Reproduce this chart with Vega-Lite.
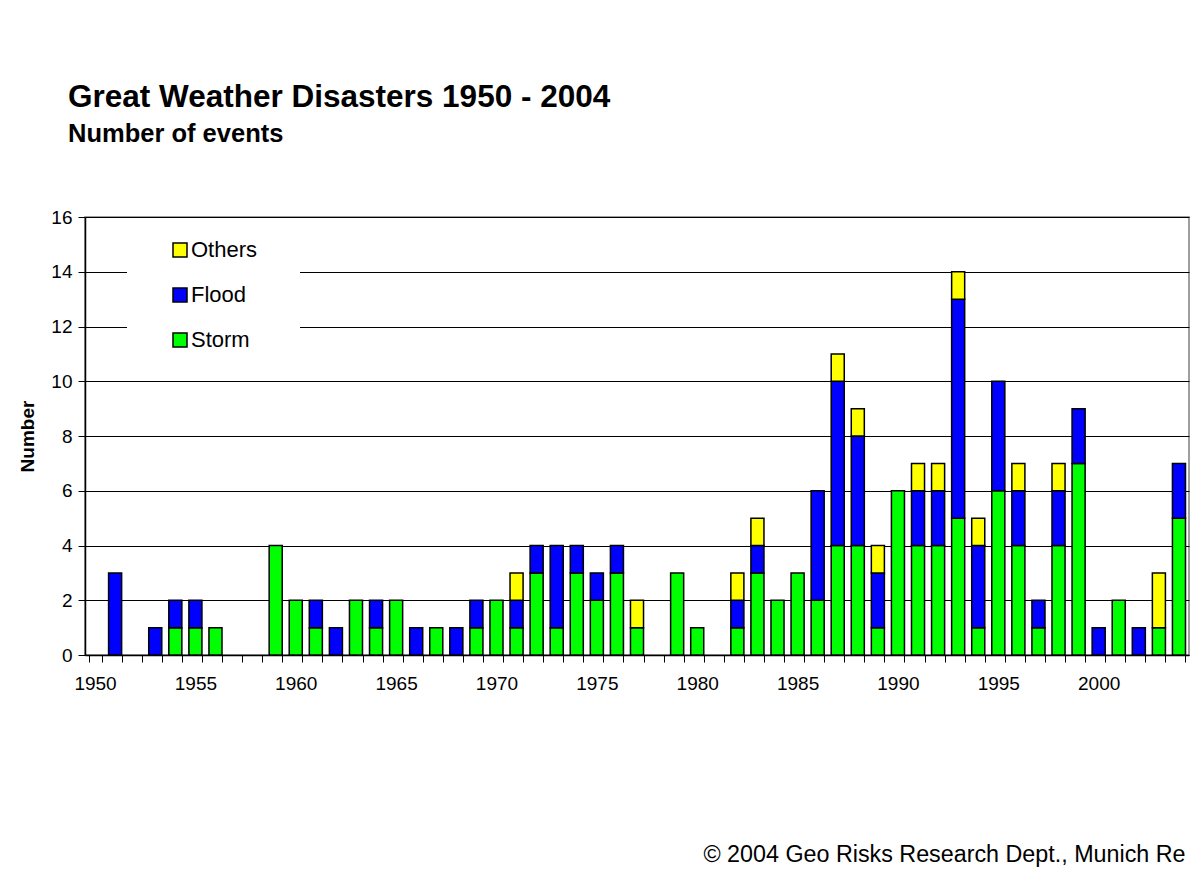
{
  "$schema": "https://vega.github.io/schema/vega-lite/v6.json",
  "autosize": {"type": "none"},
  "width": 1104,
  "height": 438,
  "padding": {"left": 85, "top": 217, "right": 9, "bottom": 220},
  "background": "white",
  "title": {
    "text": "Great Weather Disasters 1950 - 2004",
    "subtitle": "Number of events",
    "anchor": "start",
    "frame": "group",
    "dx": -17,
    "offset": 61,
    "font": "Liberation Sans",
    "fontSize": 31.5,
    "fontWeight": "bold",
    "color": "#000000",
    "subtitleFont": "Liberation Sans",
    "subtitleFontSize": 25.5,
    "subtitleFontWeight": "bold",
    "subtitleColor": "#000000",
    "subtitlePadding": 8
  },
  "data": {
    "values": [
      {"year": 1951, "type": "Flood", "n": 3},
      {"year": 1953, "type": "Flood", "n": 1},
      {"year": 1954, "type": "Storm", "n": 1}, {"year": 1954, "type": "Flood", "n": 1},
      {"year": 1955, "type": "Storm", "n": 1}, {"year": 1955, "type": "Flood", "n": 1},
      {"year": 1956, "type": "Storm", "n": 1},
      {"year": 1959, "type": "Storm", "n": 4},
      {"year": 1960, "type": "Storm", "n": 2},
      {"year": 1961, "type": "Storm", "n": 1}, {"year": 1961, "type": "Flood", "n": 1},
      {"year": 1962, "type": "Flood", "n": 1},
      {"year": 1963, "type": "Storm", "n": 2},
      {"year": 1964, "type": "Storm", "n": 1}, {"year": 1964, "type": "Flood", "n": 1},
      {"year": 1965, "type": "Storm", "n": 2},
      {"year": 1966, "type": "Flood", "n": 1},
      {"year": 1967, "type": "Storm", "n": 1},
      {"year": 1968, "type": "Flood", "n": 1},
      {"year": 1969, "type": "Storm", "n": 1}, {"year": 1969, "type": "Flood", "n": 1},
      {"year": 1970, "type": "Storm", "n": 2},
      {"year": 1971, "type": "Storm", "n": 1}, {"year": 1971, "type": "Flood", "n": 1}, {"year": 1971, "type": "Others", "n": 1},
      {"year": 1972, "type": "Storm", "n": 3}, {"year": 1972, "type": "Flood", "n": 1},
      {"year": 1973, "type": "Storm", "n": 1}, {"year": 1973, "type": "Flood", "n": 3},
      {"year": 1974, "type": "Storm", "n": 3}, {"year": 1974, "type": "Flood", "n": 1},
      {"year": 1975, "type": "Storm", "n": 2}, {"year": 1975, "type": "Flood", "n": 1},
      {"year": 1976, "type": "Storm", "n": 3}, {"year": 1976, "type": "Flood", "n": 1},
      {"year": 1977, "type": "Storm", "n": 1}, {"year": 1977, "type": "Others", "n": 1},
      {"year": 1979, "type": "Storm", "n": 3},
      {"year": 1980, "type": "Storm", "n": 1},
      {"year": 1982, "type": "Storm", "n": 1}, {"year": 1982, "type": "Flood", "n": 1}, {"year": 1982, "type": "Others", "n": 1},
      {"year": 1983, "type": "Storm", "n": 3}, {"year": 1983, "type": "Flood", "n": 1}, {"year": 1983, "type": "Others", "n": 1},
      {"year": 1984, "type": "Storm", "n": 2},
      {"year": 1985, "type": "Storm", "n": 3},
      {"year": 1986, "type": "Storm", "n": 2}, {"year": 1986, "type": "Flood", "n": 4},
      {"year": 1987, "type": "Storm", "n": 4}, {"year": 1987, "type": "Flood", "n": 6}, {"year": 1987, "type": "Others", "n": 1},
      {"year": 1988, "type": "Storm", "n": 4}, {"year": 1988, "type": "Flood", "n": 4}, {"year": 1988, "type": "Others", "n": 1},
      {"year": 1989, "type": "Storm", "n": 1}, {"year": 1989, "type": "Flood", "n": 2}, {"year": 1989, "type": "Others", "n": 1},
      {"year": 1990, "type": "Storm", "n": 6},
      {"year": 1991, "type": "Storm", "n": 4}, {"year": 1991, "type": "Flood", "n": 2}, {"year": 1991, "type": "Others", "n": 1},
      {"year": 1992, "type": "Storm", "n": 4}, {"year": 1992, "type": "Flood", "n": 2}, {"year": 1992, "type": "Others", "n": 1},
      {"year": 1993, "type": "Storm", "n": 5}, {"year": 1993, "type": "Flood", "n": 8}, {"year": 1993, "type": "Others", "n": 1},
      {"year": 1994, "type": "Storm", "n": 1}, {"year": 1994, "type": "Flood", "n": 3}, {"year": 1994, "type": "Others", "n": 1},
      {"year": 1995, "type": "Storm", "n": 6}, {"year": 1995, "type": "Flood", "n": 4},
      {"year": 1996, "type": "Storm", "n": 4}, {"year": 1996, "type": "Flood", "n": 2}, {"year": 1996, "type": "Others", "n": 1},
      {"year": 1997, "type": "Storm", "n": 1}, {"year": 1997, "type": "Flood", "n": 1},
      {"year": 1998, "type": "Storm", "n": 4}, {"year": 1998, "type": "Flood", "n": 2}, {"year": 1998, "type": "Others", "n": 1},
      {"year": 1999, "type": "Storm", "n": 7}, {"year": 1999, "type": "Flood", "n": 2},
      {"year": 2000, "type": "Flood", "n": 1},
      {"year": 2001, "type": "Storm", "n": 2},
      {"year": 2002, "type": "Flood", "n": 1},
      {"year": 2003, "type": "Storm", "n": 1}, {"year": 2003, "type": "Others", "n": 2},
      {"year": 2004, "type": "Storm", "n": 5}, {"year": 2004, "type": "Flood", "n": 2}
    ]
  },
  "transform": [
    {"calculate": "indexof(['Storm','Flood','Others'], datum.type)", "as": "stackOrder"}
  ],
  "mark": {"type": "bar", "stroke": "#000000", "strokeWidth": 1.5},
  "encoding": {
    "x": {
      "field": "year",
      "type": "ordinal",
      "scale": {
        "domain": [1950,1951,1952,1953,1954,1955,1956,1957,1958,1959,1960,1961,1962,1963,1964,1965,1966,1967,1968,1969,1970,1971,1972,1973,1974,1975,1976,1977,1978,1979,1980,1981,1982,1983,1984,1985,1986,1987,1988,1989,1990,1991,1992,1993,1994,1995,1996,1997,1998,1999,2000,2001,2002,2003,2004],
        "paddingInner": 0.35,
        "paddingOuter": 0.175
      },
      "axis": {
        "title": "© 2004 Geo Risks Research Dept., Munich Re",
        "titleFont": "Liberation Sans",
        "titleFontSize": 23.3,
        "titleFontWeight": "normal",
        "titleColor": "#000000",
        "titleAlign": "right",
        "titleAnchor": null,
        "titleX": 1100,
        "titleY": 206,
        "titleBaseline": "alphabetic",
        "labelExpr": "datum.value % 5 == 0 ? datum.label : ''",
        "labelAngle": 0,
        "labelFont": "Liberation Sans",
        "labelFontSize": 19,
        "labelColor": "#000000",
        "labelPadding": 12,
        "labelOverlap": false,
        "tickBand": "extent",
        "tickColor": "#000000",
        "tickSize": 7,
        "domainColor": "#000000",
        "domainWidth": 1.5,
        "grid": false
      }
    },
    "y": {
      "field": "n",
      "type": "quantitative",
      "aggregate": "sum",
      "stack": "zero",
      "scale": {"domain": [0, 16], "nice": false},
      "axis": {
        "title": "Number",
        "titleFont": "Liberation Sans",
        "titleFontSize": 19,
        "titleFontWeight": "bold",
        "titleColor": "#000000",
        "titleX": -52,
        "titleBaseline": "alphabetic",
        "values": [0, 2, 4, 6, 8, 10, 12, 14, 16],
        "labelFont": "Liberation Sans",
        "labelFontSize": 19,
        "labelColor": "#000000",
        "labelPadding": 6,
        "tickColor": "#000000",
        "tickSize": 7,
        "domainColor": "#000000",
        "domainWidth": 1.5,
        "grid": true,
        "gridColor": "#000000",
        "gridWidth": 1
      }
    },
    "color": {
      "field": "type",
      "type": "nominal",
      "scale": {"domain": ["Others", "Flood", "Storm"], "range": ["#ffff00", "#0000ff", "#00ff00"]},
      "legend": {
        "title": "_",
        "titleOrient": "right",
        "titleOpacity": 0,
        "titleFontSize": 10,
        "titlePadding": 27,
        "orient": "none",
        "legendX": 42,
        "legendY": 12,
        "fillColor": "#ffffff",
        "padding": 10,
        "symbolType": "square",
        "symbolSize": 196,
        "symbolStrokeColor": "#000000",
        "symbolStrokeWidth": 1.5,
        "symbolOpacity": 1,
        "symbolOffset": 32,
        "labelOffset": 0,
        "labelFont": "Liberation Sans",
        "labelFontSize": 22,
        "labelColor": "#000000",
        "rowPadding": 23
      }
    },
    "order": {"field": "stackOrder", "type": "quantitative", "sort": "ascending"}
  },
  "config": {
    "view": {"stroke": "#808080", "strokeWidth": 1.5},
    "font": "Liberation Sans"
  }
}
